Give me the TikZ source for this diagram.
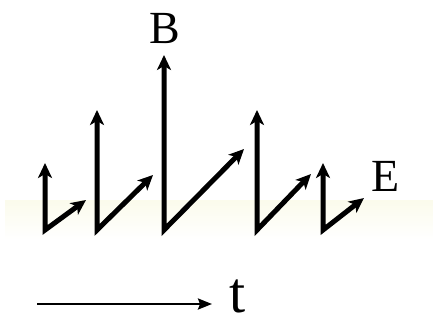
\documentclass[tikz,border=0pt]{standalone}
\usepackage{fontspec}
\setmainfont{Liberation Serif}
\usetikzlibrary{arrows.meta}
\definecolor{band}{RGB}{251,251,236}
\begin{document}
\begin{tikzpicture}[x=1pt,y=-1pt,>={Stealth[length=15pt,width=14pt,inset=4pt]}]
  \useasboundingbox (0,0) rectangle (433,325);
  % 底色带
  \shade[top color=band,bottom color=white] (5,200) rectangle (433,240);
  % 场矢量 B（竖直）与 E（斜向）
  \foreach \x/\yb/\xe/\ye in {45/163/86/200, 97/110/153/175, 164/55/244/149,
                              257/110/311/174, 323/163/364/198}
    \draw[line width=5pt,line join=miter,<->] (\x,\yb) -- (\x,230) -- (\xe,\ye);
  % 标注
  \node[inner sep=0pt,anchor=base,font=\fontsize{46}{46}\selectfont] (labB) at (165,43) {B};
  \node[inner sep=0pt,anchor=base west,font=\fontsize{46}{46}\selectfont] (labE) at (371,191) {E};
  % 时间轴
  \node[inner sep=0pt,anchor=base west,font=\fontsize{58}{58}\selectfont] (labt) at (229,312) {t};
  \draw[line width=2.4pt,-{Stealth[length=14pt,width=11pt,inset=2pt]}] (37,304) -- (212,304);
\end{tikzpicture}
\end{document}
